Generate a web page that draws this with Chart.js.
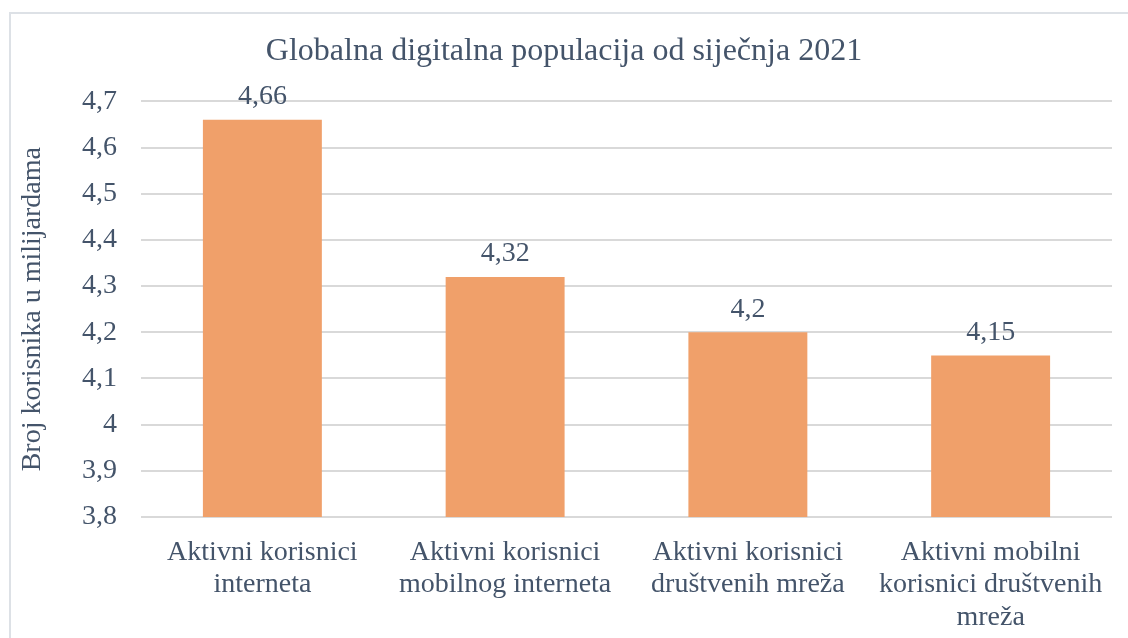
<!DOCTYPE html>
<html>
<head>
<meta charset="utf-8">
<script src="https://cdn.jsdelivr.net/npm/chart.js@4"></script>
<style>
  html, body { margin: 0; padding: 0; background: #fff; overflow: hidden; }
  #frame { position: absolute; left: 9px; top: 12px; width: 1300px; height: 800px;
           border: 2px solid #DDE1E6; box-sizing: border-box; }
  #wrap { position: absolute; left: 0; top: 0; width: 1128px; height: 638px; }
</style>
</head>
<body>
<div id="frame"></div>
<div id="wrap"><canvas id="myChart"></canvas></div>
<script>
const categories = [
  ['Aktivni korisnici', 'interneta'],
  ['Aktivni korisnici', 'mobilnog interneta'],
  ['Aktivni korisnici', 'društvenih mreža'],
  ['Aktivni mobilni', 'korisnici društvenih', 'mreža']
]
const users = [4.66, 4.32, 4.2, 4.15]
const yMin = 3.8, yMax = 4.7, yStep = 0.1

const textColor = '#44546A'
const serif = '"Liberation Serif", "Times New Roman", serif'

// decimal comma, drop trailing zeros like Excel
function fmt(v) {
  return String(Math.round(v * 100) / 100).replace('.', ',')
}

const valueLabels = {
  id: 'valueLabels',
  afterDatasetsDraw(chart) {
    const ctx = chart.ctx
    const meta = chart.getDatasetMeta(0)
    ctx.save()
    ctx.font = '28px ' + serif
    ctx.fillStyle = textColor
    ctx.textAlign = 'center'
    ctx.textBaseline = 'middle'
    meta.data.forEach((bar, i) => {
      ctx.fillText(fmt(users[i]), bar.x, bar.y - 23)
    })
    ctx.restore()
  }
}

new Chart('myChart', {
  type: 'bar',
  data: {
    labels: categories,
    datasets: [{
      data: users,
      backgroundColor: '#F0A06A',
      borderWidth: 0,
      categoryPercentage: 1,
      barPercentage: 0.49
    }]
  },
  options: {
    responsive: true,
    maintainAspectRatio: false,
    animation: false,
    layout: { padding: { left: 16, right: 16, top: 0, bottom: 8 } },
    plugins: {
      legend: { display: false },
      tooltip: { enabled: false },
      title: {
        display: true,
        text: 'Globalna digitalna populacija od siječnja 2021',
        color: textColor,
        font: { family: serif, size: 32, weight: 'normal' },
        padding: { top: 32, bottom: 31 }
      }
    },
    scales: {
      x: {
        grid: { display: false },
        border: { display: false },
        ticks: {
          color: textColor,
          font: { family: serif, size: 28, lineHeight: 1.16 },
          padding: 11,
          maxRotation: 0,
          autoSkip: false
        },
        afterFit(scale) { scale.height = 113 }
      },
      y: {
        min: yMin,
        max: yMax,
        border: { display: false },
        grid: { color: '#D9D9D9', lineWidth: 2, drawTicks: false },
        title: {
          display: true,
          text: 'Broj korisnika u milijardama',
          color: textColor,
          font: { family: serif, size: 28, lineHeight: 1.16 },
          padding: 0
        },
        ticks: {
          stepSize: yStep,
          color: textColor,
          font: { family: serif, size: 28 },
          padding: 24,
          callback: v => fmt(v)
        },
        afterFit(scale) { scale.width = 125 }
      }
    }
  },
  plugins: [valueLabels]
})
</script>
</body>
</html>
